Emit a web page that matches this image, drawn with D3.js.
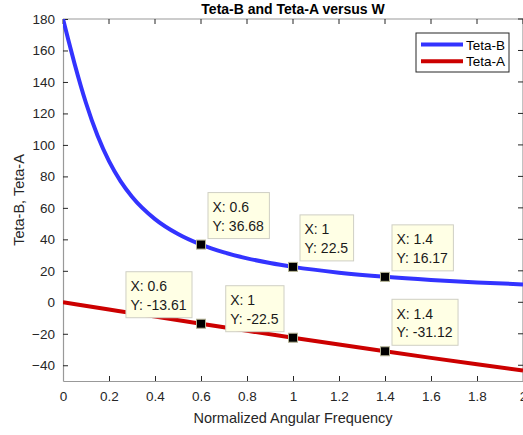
<!DOCTYPE html>
<html>
<head>
<meta charset="utf-8">
<script src="https://cdn.jsdelivr.net/npm/d3@7"></script>
<style>
  body { margin: 0; background: #fff; }
  svg { display: block; font-family: "Liberation Sans", Arial, sans-serif; }
</style>
</head>
<body>
<div id="chart"></div>
<script>
// Teta-B curve
var freqB = [0, 0.02, 0.05, 0.1, 0.15, 0.2, 0.25, 0.3, 0.4, 0.5, 0.6, 0.7, 0.8, 0.9, 1, 1.2, 1.4, 1.6, 1.8, 2];
var tetaB = [180, 168.52, 151.78, 126.62, 105.96, 89.69, 77.02, 67.09, 52.88, 43.39, 36.68, 31.73, 27.93, 24.92, 22.5, 18.82, 16.17, 14.17, 12.61, 11.36];

// Teta-A line
var freqA = [0, 0.2, 0.4, 0.6, 0.8, 1, 1.2, 1.4, 1.6, 1.8, 2];
var tetaA = [0, -4.56, -9.10, -13.61, -18.08, -22.5, -26.85, -31.12, -35.31, -39.40, -43.39];

// data tips
var tipX = [0.6, 1, 1.4, 0.6, 1, 1.4];
var tipY = [36.68, 22.5, 16.17, -13.61, -22.5, -31.12];
var tipLabelY = ["36.68", "22.5", "16.17", "-13.61", "-22.5", "-31.12"];
var tipSide = ["right", "right", "right", "left", "left", "right"];

var xTicks = [0, 0.2, 0.4, 0.6, 0.8, 1, 1.2, 1.4, 1.6, 1.8, 2];
var yTicks = [-40, -20, 0, 20, 40, 60, 80, 100, 120, 140, 160, 180];

var seriesNames = ["Teta-B", "Teta-A"];
var seriesColors = ["#3333ff", "#cc0000"];

var W = 523, H = 435;
var margin = { top: 19, right: 0, bottom: 54, left: 63 };
var width = 460, height = H - margin.top - margin.bottom;

var svg = d3.select("#chart").append("svg")
    .attr("width", W)
    .attr("height", H);

var g = svg.append("g")
    .attr("transform", "translate(" + margin.left + "," + margin.top + ")");

var x = d3.scaleLinear().domain([0, 2]).range([0, width]);
var y = d3.scaleLinear().domain([-50, 180]).range([height, 0]);

g.append("defs").append("clipPath")
    .attr("id", "clip")
    .append("rect")
    .attr("width", width)
    .attr("height", height);

var axisCol = "#262626";

// box edges (top / right)
g.append("line").attr("x1", 0).attr("x2", width).attr("y1", 0).attr("y2", 0)
    .attr("stroke", "#999").attr("stroke-width", 1.2);
g.append("line").attr("x1", width).attr("x2", width).attr("y1", 0).attr("y2", height)
    .attr("stroke", "#999").attr("stroke-width", 1.2);

// ticks on top and right
g.selectAll(".ttick").data(xTicks).enter().append("line")
    .attr("x1", function(d) { return x(d); }).attr("x2", function(d) { return x(d); })
    .attr("y1", 0).attr("y2", 5)
    .attr("stroke", axisCol);
g.selectAll(".rtick").data(yTicks).enter().append("line")
    .attr("x1", width - 5).attr("x2", width)
    .attr("y1", function(d) { return y(d); }).attr("y2", function(d) { return y(d); })
    .attr("stroke", axisCol);

var xAxis = d3.axisBottom(x).tickValues(xTicks).tickSizeInner(-5).tickSizeOuter(0)
    .tickPadding(10).tickFormat(d3.format("~g"));
var yAxis = d3.axisLeft(y).tickValues(yTicks).tickSizeInner(-5).tickSizeOuter(0)
    .tickPadding(8);

var gx = g.append("g")
    .attr("transform", "translate(0," + height + ")")
    .call(xAxis);
var gy = g.append("g").call(yAxis);

[gx, gy].forEach(function(a) {
    a.select(".domain").attr("stroke", "#999").attr("stroke-width", 1.2);
    a.selectAll(".tick line").attr("stroke", axisCol);
    a.selectAll(".tick text").attr("fill", axisCol)
        .style("font-size", "13.5px")
        .style("font-family", "'Liberation Sans', Arial, sans-serif");
});

// lines
var line = d3.line()
    .x(function(d) { return x(d[0]); })
    .y(function(d) { return y(d[1]); })
    .curve(d3.curveMonotoneX);

var lines = g.append("g").attr("clip-path", "url(#clip)");
lines.append("path")
    .datum(d3.zip(freqB, tetaB))
    .attr("d", line)
    .attr("fill", "none")
    .attr("stroke", seriesColors[0])
    .attr("stroke-width", 4);
lines.append("path")
    .datum(d3.zip(freqA, tetaA))
    .attr("d", line)
    .attr("fill", "none")
    .attr("stroke", seriesColors[1])
    .attr("stroke-width", 4);

// data tips
var tips = g.selectAll(".tip")
    .data(tipX.map(function(d, i) { return { x: d, y: tipY[i], ly: tipLabelY[i], side: tipSide[i] }; }))
    .enter().append("g")
    .attr("class", "tip");

tips.each(function(d) {
    var t = d3.select(this);
    var px = x(d.x), py = y(d.y);
    var box = t.append("rect")
        .attr("fill", "#ffffe5")
        .attr("stroke", "#cfcfc4")
        .attr("stroke-width", 1);
    var txt = t.append("text")
        .attr("fill", "#1a1a1a")
        .style("font-size", "14px");
    txt.append("tspan").attr("x", 0).attr("y", 19.5).text("X: " + d3.format("~g")(d.x));
    txt.append("tspan").attr("x", 0).attr("y", 38).text("Y: " + d.ly);
    var tw = txt.node().getComputedTextLength ? Math.max(
        txt.selectAll("tspan").nodes()[0].getComputedTextLength(),
        txt.selectAll("tspan").nodes()[1].getComputedTextLength()) : 50;
    var bw = tw + 10, bh = 46;
    var bx = d.side === "right" ? px + 7 : px - 9 - bw;
    var by = py - 6 - bh;
    box.attr("x", bx).attr("y", by).attr("width", bw).attr("height", bh);
    txt.attr("transform", "translate(" + (bx + 4.5) + "," + by + ")");
    t.append("rect")
        .attr("x", px - 4.5).attr("y", py - 4.5)
        .attr("width", 9).attr("height", 9)
        .attr("fill", "#000")
        .attr("stroke", "#b5b394")
        .attr("stroke-width", 1);
});

// legend
var leg = svg.append("g").attr("transform", "translate(416,33)");
leg.append("rect")
    .attr("width", 93).attr("height", 39)
    .attr("fill", "#fff")
    .attr("stroke", "#262626")
    .attr("stroke-width", 1);
seriesNames.forEach(function(name, i) {
    var ly = 11.5 + i * 16.7;
    leg.append("line")
        .attr("x1", 5).attr("x2", 47)
        .attr("y1", ly).attr("y2", ly)
        .attr("stroke", seriesColors[i])
        .attr("stroke-width", 4);
    leg.append("text")
        .attr("x", 50).attr("y", ly + 5)
        .attr("fill", "#000")
        .style("font-size", "13.5px")
        .text(name);
});

// title and axis labels
svg.append("text")
    .attr("x", margin.left + width / 2).attr("y", 14)
    .attr("text-anchor", "middle")
    .attr("fill", "#000")
    .style("font-size", "14px")
    .style("font-weight", "bold")
    .text("Teta-B and Teta-A versus W");

svg.append("text")
    .attr("x", margin.left + width / 2).attr("y", 423)
    .attr("text-anchor", "middle")
    .attr("fill", axisCol)
    .style("font-size", "14.5px")
    .text("Normalized Angular Frequency");

svg.append("text")
    .attr("transform", "translate(24,200) rotate(-90)")
    .attr("text-anchor", "middle")
    .attr("fill", axisCol)
    .style("font-size", "14.5px")
    .text("Teta-B, Teta-A");
</script>
</body>
</html>
